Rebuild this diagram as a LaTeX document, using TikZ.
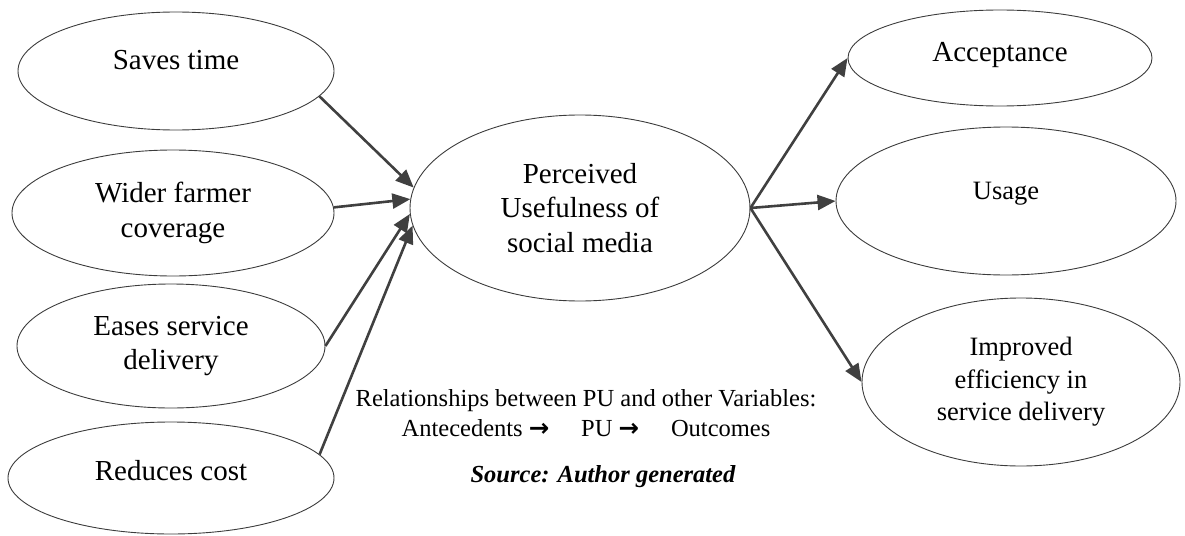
\documentclass[tikz,border=0pt]{standalone}
\usepackage{fontspec}
\setmainfont{Liberation Serif}
\newfontfamily\arrowfont{DejaVu Sans}
\usepackage{tikz}
\usetikzlibrary{shapes.geometric, arrows.meta}
\definecolor{rimgray}{RGB}{60,60,60}
\definecolor{arrowgray}{RGB}{64,64,64}
\newcommand{\towards}{{\arrowfont\bfseries →}}

\begin{document}
\begin{tikzpicture}[x=1pt, y=-1pt,
    oval/.style={draw=rimgray, line width=0.9pt, ellipse, inner sep=0pt, align=center,
        font=\fontsize{29}{34.5}\selectfont},
    smalloval/.style={oval, font=\fontsize{26.5}{32.5}\selectfont},
    lifted/.style={text height=#1, text depth=22pt},
    link/.style={draw=arrowgray, line width=2.6pt, -{Triangle[length=18pt, width=15pt]}},
    note/.style={align=center, font=\fontsize{24.5}{30}\selectfont}]
    \useasboundingbox (0,0) rectangle (1185,535);

    % antecedents
    \node[oval, lifted=20pt, minimum width=316pt, minimum height=118pt] (saves) at (176,71) {Saves time};
    \node[oval, minimum width=322pt, minimum height=126pt] (wider) at (173,213) {Wider farmer\\coverage};
    \node[oval, minimum width=308pt, minimum height=124pt] (eases) at (171,346) {Eases service\\delivery};
    \node[oval, lifted=20pt, text depth=16pt, minimum width=326pt, minimum height=112pt] (reduces) at (171,478) {Reduces cost};

    % perceived usefulness
    \node[oval, minimum width=340pt, minimum height=186pt] (pu) at (580,208) {Perceived\\Usefulness of\\social media};

    % outcomes
    \node[oval, lifted=20pt, text depth=12pt, minimum width=304pt, minimum height=96pt] (accept) at (1000,58) {Acceptance};
    \node[smalloval, lifted=18pt, minimum width=340pt, minimum height=148pt] (usage) at (1006,201) {Usage};
    \node[smalloval, minimum width=318pt, minimum height=168pt] (improved) at (1021,382) {Improved\\efficiency in\\service delivery};

    \draw[link] (saves.-10) -- (pu.173);
    \draw[link] (wider.2) -- (pu.177);
    \draw[link] (eases.0) -- (pu.182);
    \draw[link] (reduces.9) -- (pu.186);
    \draw[link] (pu.east) -- (accept.west);
    \draw[link] (pu.east) -- (usage.west);
    \draw[link] (pu.east) -- (improved.west);

    \node[note] (relations) at (586,413) {Relationships between PU and other Variables:\\
        Antecedents \towards\hspace{1.3em}PU \towards\hspace{1.3em}Outcomes};
    \node[note, font=\fontsize{24.5}{30}\selectfont\bfseries\itshape] (source) at (603,477) {Source: Author generated};
\end{tikzpicture}
\end{document}
